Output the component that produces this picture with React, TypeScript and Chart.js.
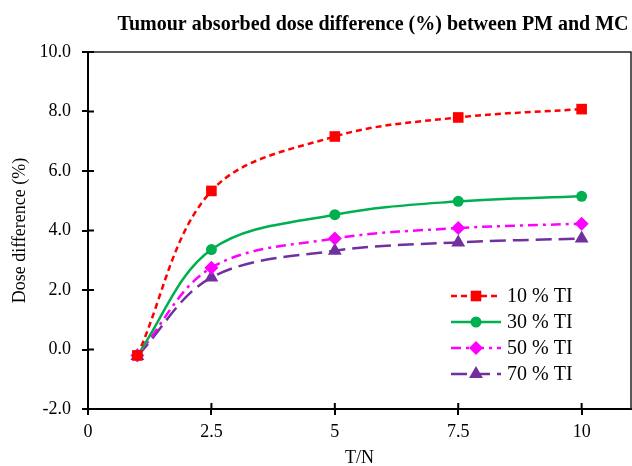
import React, { useEffect, useRef } from 'react';
import { Chart, registerables } from 'chart.js';

Chart.register(...registerables);

const tn = [1, 2.5, 5, 7.5, 10];
const ti10 = [-0.2, 5.33, 7.16, 7.8, 8.08];
const ti30 = [-0.2, 3.36, 4.53, 4.98, 5.15];
const ti50 = [-0.2, 2.75, 3.73, 4.08, 4.23];
const ti70 = [-0.22, 2.42, 3.32, 3.6, 3.73];
const seriesLabels = ['10 % TI', '30 % TI', '50 % TI', '70 % TI'];
const xTicks = [0, 2.5, 5, 7.5, 10];
const xMax = 11;
const titleText = 'Tumour absorbed dose difference (%) between PM and MC';
const yTitle = 'Dose difference (%)';
const xTitle = 'T/N';

const SERIF = '"Liberation Serif", "Times New Roman", serif';

function drawMarker(ctx: CanvasRenderingContext2D, style: string, x: number, y: number, r: number, color: string) {
  ctx.save();
  ctx.fillStyle = color;
  ctx.beginPath();
  if (style === 'rect') {
    const s = Math.SQRT1_2 * r;
    ctx.rect(x - s, y - s, 2 * s, 2 * s);
  } else if (style === 'circle') {
    ctx.arc(x, y, r, 0, Math.PI * 2);
  } else if (style === 'rectRot') {
    ctx.moveTo(x, y - r);
    ctx.lineTo(x + r, y);
    ctx.lineTo(x, y + r);
    ctx.lineTo(x - r, y);
    ctx.closePath();
  } else if (style === 'triangle') {
    ctx.moveTo(x, y - r);
    ctx.lineTo(x + r * Math.cos(Math.PI / 6), y + r / 2);
    ctx.lineTo(x - r * Math.cos(Math.PI / 6), y + r / 2);
    ctx.closePath();
  }
  ctx.fill();
  ctx.restore();
}

const decorPlugin = {
  id: 'decor',
  afterDraw(chart: any) {
    const ctx: CanvasRenderingContext2D = chart.ctx;
    const a = chart.chartArea;
    const xs = chart.scales.x;
    const ys = chart.scales.y;
    ctx.save();
    ctx.strokeStyle = '#222';
    ctx.lineWidth = 1.5;
    ctx.beginPath();
    ctx.moveTo(a.left, a.top);
    ctx.lineTo(a.right, a.top);
    ctx.lineTo(a.right, a.bottom);
    ctx.stroke();
    ctx.strokeStyle = '#000';
    ctx.lineWidth = 2;
    ctx.beginPath();
    for (const v of xTicks) {
      const px = xs.getPixelForValue(v);
      ctx.moveTo(px, a.bottom);
      ctx.lineTo(px, a.bottom - 6);
    }
    for (let v = -2; v <= 10; v += 2) {
      const py = ys.getPixelForValue(v);
      ctx.moveTo(a.left, py);
      ctx.lineTo(a.left + 6, py);
    }
    ctx.stroke();
    ctx.fillStyle = '#000';
    ctx.font = 'bold 20px ' + SERIF;
    ctx.textAlign = 'center';
    ctx.textBaseline = 'middle';
    ctx.fillText(titleText, 373, 25);
    const ds = chart.data.datasets;
    ctx.font = '20px ' + SERIF;
    ctx.textAlign = 'left';
    const rows = [296, 322, 348, 374];
    ds.forEach((d: any, i: number) => {
      const y = rows[i];
      ctx.save();
      ctx.strokeStyle = d.borderColor;
      ctx.lineWidth = d.borderWidth;
      ctx.setLineDash(d.borderDash || []);
      ctx.beginPath();
      ctx.moveTo(451, y);
      ctx.lineTo(501, y);
      ctx.stroke();
      ctx.restore();
      drawMarker(ctx, d.pointStyle, 476, y, d.pointRadius, d.pointBackgroundColor);
      ctx.fillStyle = '#000';
      ctx.fillText(d.label, 507, y + 1);
    });
    ctx.restore();
  },
};

export default function App() {
  const ref = useRef<HTMLCanvasElement | null>(null);
  useEffect(() => {
    if (!ref.current) return;
    const mk = (label: string, data: number[], color: string, dash: number[], style: string, r: number) => ({
      label,
      data: tn.map((x, i) => ({ x, y: data[i] })),
      borderColor: color,
      backgroundColor: color,
      pointBackgroundColor: color,
      pointBorderColor: color,
      borderWidth: 2.5,
      borderDash: dash,
      pointStyle: style,
      pointRadius: r,
      pointBorderWidth: 0,
      tension: 0.35,
      fill: false,
    });
    const chart = new Chart(ref.current, {
      type: 'line',
      data: {
        datasets: [
          mk(seriesLabels[0], ti10, '#FF0000', [6, 4], 'rect', 7.5),
          mk(seriesLabels[1], ti30, '#00B050', [], 'circle', 5.5),
          mk(seriesLabels[2], ti50, '#FF00FF', [10, 5, 3, 5], 'rectRot', 7),
          mk(seriesLabels[3], ti70, '#7030A0', [16, 7], 'triangle', 8),
        ] as any,
      },
      options: {
        animation: false,
        responsive: false,
        layout: { autoPadding: false, padding: { top: 52, right: 1, left: 0, bottom: 0 } },
        plugins: { legend: { display: false }, tooltip: { enabled: false } },
        scales: {
          x: {
            type: 'linear',
            min: 0,
            max: xMax,
            afterFit: (s: any) => { s.height = 57; },
            afterBuildTicks: (s: any) => { s.ticks = xTicks.map((v) => ({ value: v })); },
            grid: { drawOnChartArea: false, drawTicks: true, tickLength: 6, color: '#000', lineWidth: 2 },
            border: { display: true, color: '#000', width: 2 },
            ticks: {
              color: '#000',
              font: { family: SERIF, size: 18 },
              padding: 6,
              maxRotation: 0,
              autoSkip: false,
              callback: (v: any) => String(v),
            },
            title: { display: true, text: xTitle, color: '#000', font: { family: SERIF, size: 18 }, padding: { top: 0, bottom: -3 } },
          },
          y: {
            type: 'linear',
            min: -2,
            max: 10,
            afterFit: (s: any) => { s.width = 88; },
            grid: { drawOnChartArea: false, drawTicks: true, tickLength: 6, color: '#000', lineWidth: 2 },
            border: { display: true, color: '#000', width: 2 },
            ticks: {
              stepSize: 2,
              color: '#000',
              font: { family: SERIF, size: 18 },
              padding: 11,
              callback: (v: any) => Number(v).toFixed(1),
            },
            title: { display: true, text: yTitle, color: '#000', font: { family: SERIF, size: 18 }, padding: { top: 9, bottom: 0 } },
          },
        },
      },
      plugins: [decorPlugin],
    });
    return () => chart.destroy();
  }, []);
  return (
    <div style={{ position: 'fixed', left: 0, top: 0, width: 632, height: 466, background: '#fff' }}>
      <canvas ref={ref} width={632} height={466} style={{ display: 'block' }} />
    </div>
  );
}
